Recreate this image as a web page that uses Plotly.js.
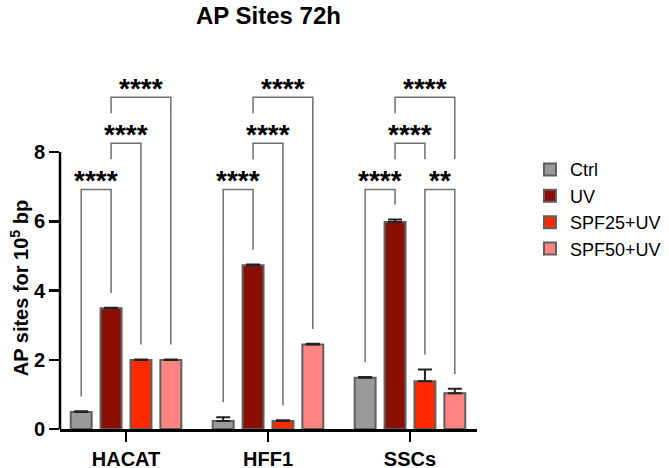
<!DOCTYPE html>
<html>
<head>
<meta charset="utf-8">
<script src="https://cdn.plot.ly/plotly-3.0.1.min.js"></script>
<style>
  html, body { margin: 0; padding: 0; background: #ffffff; }
  #chart { width: 669px; height: 468px; }
</style>
</head>
<body>
<div id="chart"></div>
<script>
// AP sites per 10^5 bp after 72 h, by cell line and treatment
const cellLines = ['HACAT', 'HFF1', 'SSCs'];
const groups = ['Ctrl', 'UV', 'SPF25+UV', 'SPF50+UV'];

const ctrlMean  = [0.49, 0.23, 1.48];
const ctrlErr   = [0.02, 0.11, 0.02];
const uvMean    = [3.49, 4.73, 5.98];
const uvErr     = [0.01, 0.02, 0.07];
const spf25Mean = [1.99, 0.23, 1.38];
const spf25Err  = [0.02, 0.02, 0.34];
const spf50Mean = [1.99, 2.44, 1.03];
const spf50Err  = [0.02, 0.02, 0.13];

const yTicks = [0, 2, 4, 6, 8];

// Pairwise comparisons: cell line, the two groups, bracket tier, significance
const compCell  = [0, 0, 0, 1, 1, 1, 2, 2, 2, 2];
const compFrom  = [0, 1, 1, 0, 1, 1, 0, 1, 1, 2];
const compTo    = [1, 2, 3, 1, 2, 3, 1, 2, 3, 3];
const compTier  = [0, 1, 2, 0, 1, 2, 0, 1, 2, 0];
const compStars = ['****', '****', '****', '****', '****', '****', '****', '****', '****', '**'];

// ---- styling / geometry ----
const FONT = 'Liberation Sans, Arial, Helvetica, sans-serif';
const fills = ['#9a9a9a', '#8a0f02', '#ff2a00', '#ff8482'];
const outline = '#5f5f5f';
const bracketColor = '#707070';
const BARGAP = 0.158;
const tierY = [6.92, 8.25, 9.58];   // bracket heights in data units
const LABEL_GAP = 0.44;             // star label above its bracket
const LEG_GAP = 0.43;               // clearance at the bottom of a bracket leg

const means = [ctrlMean, uvMean, spf25Mean, spf50Mean];
const errs = [ctrlErr, uvErr, spf25Err, spf50Err];
const xIdx = cellLines.map((_, i) => i);
const slot = (1 - BARGAP) / groups.length;
const barX = (cell, g) => cell + (g - (groups.length - 1) / 2) * slot;

const traces = groups.map((name, g) => ({
  type: 'bar',
  name: name,
  x: xIdx,
  y: means[g],
  marker: { color: fills[g], line: { color: outline, width: 2 } },
  error_y: {
    type: 'data', symmetric: false,
    array: errs[g], arrayminus: errs[g].map(() => 0),
    color: '#222222', thickness: 2, width: 7
  },
  hoverinfo: 'skip'
}));

// Where a bracket leg stops: above a lower label on the same bar, else above the bar
function legEnd(cell, g, tier) {
  let lower = -1;
  for (let k = 0; k < compCell.length; k++) {
    if (compCell[k] === cell && (compFrom[k] === g || compTo[k] === g) && compTier[k] < tier) {
      lower = Math.max(lower, compTier[k]);
    }
  }
  if (lower >= 0) return tierY[lower] + LABEL_GAP + LEG_GAP;
  return means[g][cell] + errs[g][cell] + LEG_GAP;
}

const shapes = [{
  // y axis line spanning the 0-8 tick range only
  type: 'line', xref: 'paper', yref: 'y',
  x0: 0, x1: 0, y0: 0, y1: yTicks[yTicks.length - 1],
  line: { color: '#000000', width: 2.5 }
}];
const annotations = [{
  text: 'AP sites for 10<sup>5</sup> bp',
  xref: 'paper', yref: 'y', x: -0.098, y: 4.07,
  xanchor: 'center', yanchor: 'middle', textangle: -90, showarrow: false,
  font: { family: FONT, size: 20, weight: 'bold', color: '#000000' }
}];

for (let k = 0; k < compCell.length; k++) {
  const c = compCell[k], a = compFrom[k], b = compTo[k], t = compTier[k];
  const xa = barX(c, a), xb = barX(c, b), yt = tierY[t];
  shapes.push({
    type: 'path', xref: 'x', yref: 'y',
    path: `M${xa},${legEnd(c, a, t)} L${xa},${yt} L${xb},${yt} L${xb},${legEnd(c, b, t)}`,
    line: { color: bracketColor, width: 1.5 }
  });
  annotations.push({
    text: compStars[k], xref: 'x', yref: 'y',
    x: (xa + xb) / 2, y: yt + LABEL_GAP, yshift: -6,
    xanchor: 'center', yanchor: 'middle', showarrow: false,
    font: { family: FONT, size: 28, weight: 'bold', color: '#000000' }
  });
}

const tickFont = { family: FONT, size: 20, weight: 'bold', color: '#000000' };

const layout = {
  width: 669, height: 468,
  margin: { l: 60, r: 192, t: 62, b: 39, autoexpand: false },
  paper_bgcolor: '#ffffff', plot_bgcolor: '#ffffff',
  barmode: 'group', bargap: BARGAP, bargroupgap: 0.3,
  title: {
    text: 'AP Sites 72h',
    font: { family: FONT, size: 24, weight: 'bold', color: '#000000' },
    xref: 'paper', x: 0.5, xanchor: 'center',
    yref: 'container', y: 1 - 16 / 468, yanchor: 'middle'
  },
  xaxis: {
    range: [-0.465, 2.472], tickvals: xIdx, ticktext: cellLines,
    showline: true, linecolor: '#000000', linewidth: 2.5,
    ticks: 'outside', ticklen: 10, tickwidth: 2.5, tickcolor: '#000000',
    showgrid: false, zeroline: false, tickfont: tickFont
  },
  yaxis: {
    range: [0, 10.6], tickvals: yTicks,
    showline: false, ticks: 'outside', ticklen: 10, tickwidth: 2.5, tickcolor: '#000000',
    showgrid: false, zeroline: false, tickfont: tickFont
  },
  legend: {
    x: 1.127, xanchor: 'left', y: 0.757, yanchor: 'top',
    font: { family: FONT, size: 18, color: '#000000' },
    bgcolor: 'rgba(0,0,0,0)'
  },
  shapes: shapes,
  annotations: annotations
};

Plotly.newPlot('chart', traces, layout, { staticPlot: true, displayModeBar: false });
</script>
</body>
</html>
